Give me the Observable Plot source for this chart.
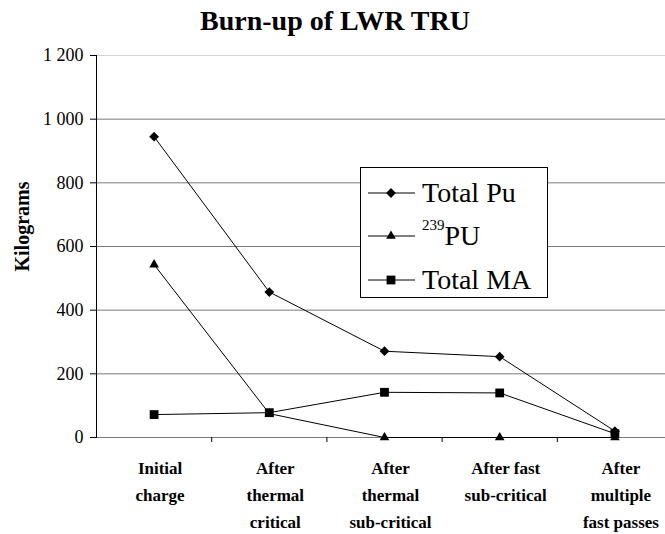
<!DOCTYPE html>
<html><head><meta charset="utf-8">
<script src="https://cdn.jsdelivr.net/npm/d3@7"></script>
<script src="https://cdn.jsdelivr.net/npm/@observablehq/plot@0.6"></script>
<style>
body{margin:0;background:#fff;font-family:"Liberation Serif","Times New Roman",serif;}
#wrap{position:relative;width:665px;height:534px;overflow:hidden;background:#fff;}
#wrap > svg{position:absolute;left:0;top:0;}
#title{position:absolute;top:7px;left:0;width:670px;text-align:center;font-weight:bold;font-size:28px;line-height:28px;color:#000;}
#legend{position:absolute;left:360px;top:167px;width:186px;height:129px;border:1px solid #000;background:#fff;}
.item{position:absolute;left:0;height:40px;display:flex;align-items:center;font-size:28px;color:#000;white-space:nowrap;}
.item svg{display:block;margin-left:7px;margin-right:6px;}
.item sup{font-size:15px;vertical-align:top;position:relative;top:-3px;}
</style></head><body>
<div id="wrap"><div id="title">Burn-up of LWR TRU</div></div>
<script>
const categories = ["Initial\ncharge", "After\nthermal\ncritical", "After\nthermal\nsub-critical", "After fast\nsub-critical", "After\nmultiple\nfast passes"];
const totalPu = [945, 457, 271, 254, 20];
const pu239 = [543, 75, 0, 0, 0];
const totalMA = [72, 78, 142, 140, 12];
const yTicks = [0, 200, 400, 600, 800, 1000, 1200];
const seriesNames = ["Total Pu", "239PU", "Total MA"];
const legendSup = ["", "239", ""];
const legendText = ["Total Pu", "PU", "Total MA"];

const seriesValues = [totalPu, pu239, totalMA];
const symbols = ["diamond2", "triangle2", "square2"];
const symbolR = [4.4, 4.6, 5.6];
const rows = [];
seriesValues.forEach((vals, s) => vals.forEach((v, i) => rows.push({i, series: seriesNames[s], value: v})));

const loc = d3.formatLocale({decimal: ".", thousands: " ", grouping: [3], currency: ["", ""]});
const fmt = loc.format(",d");
const idx = categories.map((_, i) => i);
const bounds = idx.map(i => i + 0.5);

const chart = Plot.plot({
  width: 665,
  height: 534,
  marginTop: 55,
  marginBottom: 97,
  marginLeft: 96,
  marginRight: 0,
  style: {fontFamily: "Liberation Serif, Times New Roman, serif", fontSize: "18px", color: "#000", background: "transparent"},
  x: {domain: [-0.5, categories.length - 0.5], range: [96, 672]},
  y: {domain: [0, 1200]},
  marks: [
    Plot.ruleY(yTicks.filter(d => d > 0 && d < 1200), {stroke: "#7a7a7a", strokeWidth: 1}),
    Plot.frame({anchor: "top", stroke: "#d4d4d4"}),
    Plot.ruleY([0], {stroke: "#7a7a7a", strokeWidth: 1}),
    Plot.frame({anchor: "left", stroke: "#000"}),
    Plot.axisY(yTicks, {tickSize: 6, tickPadding: 7, tickFormat: fmt, fontSize: 18, label: null, stroke: "#000"}),
    Plot.axisX(bounds, {tickSize: 5, tickFormat: () => "", label: null, stroke: "#000"}),
    Plot.axisX(idx, {tickSize: 0, tickPadding: 17, tickFormat: i => categories[i], fontWeight: "bold", fontSize: 17, lineHeight: 1.6, dx: 6, label: null}),
    Plot.line(rows, {x: "i", y: "value", z: "series", stroke: "#000", strokeWidth: 1}),
    ...seriesNames.map((name, s) => Plot.dot(rows.filter(d => d.series === name), {x: "i", y: "value", symbol: symbols[s], r: symbolR[s], fill: "#000", stroke: "none"})),
    Plot.text(["Kilograms"], {frameAnchor: "left", textAnchor: "middle", rotate: -90, dx: -74, dy: -20, fontWeight: "bold", fontSize: 20, fill: "#000"})
  ]
});
const wrap = document.getElementById("wrap");
wrap.appendChild(chart);

// legend
const legend = document.createElement("div");
legend.id = "legend";
const symFns = [d3.symbolDiamond2, d3.symbolTriangle2, d3.symbolSquare2];
const itemTops = [5, 48, 92];
seriesNames.forEach((name, s) => {
  const item = document.createElement("div");
  item.className = "item";
  item.style.top = itemTops[s] + "px";
  const svg = d3.create("svg").attr("width", 48).attr("height", 20);
  svg.append("line").attr("x1", 0).attr("x2", 47).attr("y1", 10).attr("y2", 10).attr("stroke", "#000");
  svg.append("path").attr("transform", "translate(23,10)")
    .attr("d", d3.symbol(symFns[s], symbolR[s] * symbolR[s] * Math.PI)()).attr("fill", "#000");
  item.appendChild(svg.node());
  const span = document.createElement("span");
  if (legendSup[s]) {
    const sup = document.createElement("sup");
    sup.textContent = legendSup[s];
    span.appendChild(sup);
  }
  span.appendChild(document.createTextNode(legendText[s]));
  item.appendChild(span);
  legend.appendChild(item);
});
wrap.appendChild(legend);
</script>
</body></html>
